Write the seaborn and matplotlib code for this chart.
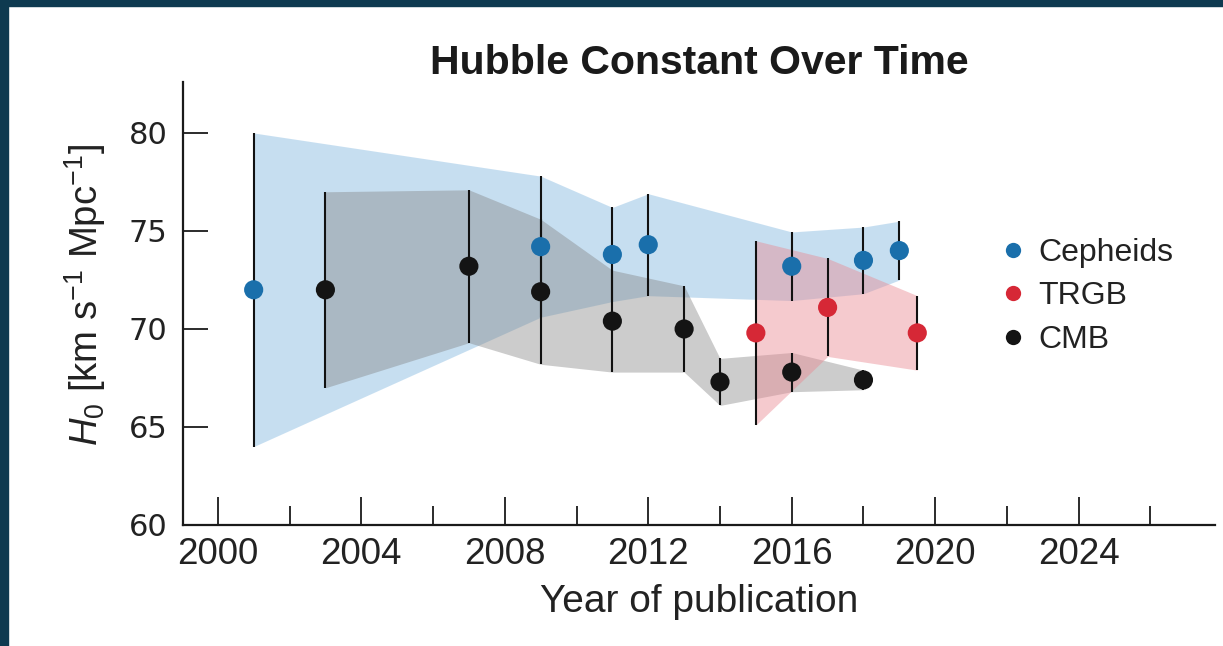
import numpy as np
import pandas as pd
import matplotlib
matplotlib.use("Agg")
import matplotlib.pyplot as plt
import seaborn as sns
from matplotlib.lines import Line2D
from matplotlib.patches import Rectangle

# H0 measurements by method: publication year, central value, 1-sigma error
cepheid_years = [2001, 2009, 2011, 2012, 2016, 2018, 2019]
cepheid_h0 = [72.0, 74.2, 73.8, 74.3, 73.2, 73.5, 74.0]
cepheid_err = [8.0, 3.6, 2.4, 2.6, 1.75, 1.7, 1.5]

trgb_years = [2015, 2017, 2019.5]
trgb_h0 = [69.8, 71.1, 69.8]
trgb_err = [4.7, 2.5, 1.9]

cmb_years = [2003, 2007, 2009, 2011, 2013, 2014, 2016, 2018]
cmb_h0 = [72.0, 73.2, 71.9, 70.4, 70.0, 67.3, 67.8, 67.4]
cmb_err = [5.0, 3.9, 3.7, 2.6, 2.2, 1.2, 1.0, 0.5]

methods = ["Cepheids", "TRGB", "CMB"]
marker_colors = {"Cepheids": "#1a6fab", "TRGB": "#d62836", "CMB": "#141414"}
band_colors = {"Cepheids": ("#8fbfe3", 0.5), "TRGB": ("#e98a93", 0.45), "CMB": ("#808080", 0.40)}

frames = []
for name, yrs, h0, err in [("Cepheids", cepheid_years, cepheid_h0, cepheid_err),
                           ("TRGB", trgb_years, trgb_h0, trgb_err),
                           ("CMB", cmb_years, cmb_h0, cmb_err)]:
    frames.append(pd.DataFrame({"method": name, "year": yrs, "h0": h0, "err": err}))
df = pd.concat(frames, ignore_index=True)

sns.set_theme(style="ticks")
plt.rcParams["font.family"] = ["Liberation Sans", "DejaVu Sans"]
plt.rcParams["mathtext.fontset"] = "custom"
plt.rcParams["mathtext.rm"] = "Liberation Sans"
plt.rcParams["mathtext.it"] = "Liberation Sans:italic"

W, H = 1223, 646
fig = plt.figure(figsize=(W / 100, H / 100), dpi=100)
fig.patch.set_facecolor("white")
ax = fig.add_axes([183 / W, 1 - 525 / H, (1215 - 183) / W, (525 - 82) / H])
ax.set_facecolor("white")

# dark frame along the top and left edges
frame_color = "#0e3a50"
fig.patches.append(Rectangle((0, 0), 8 / W, 1, transform=fig.transFigure,
                             color=frame_color, zorder=0))
fig.patches.append(Rectangle((0, 1 - 6 / H), 1, 6 / H, transform=fig.transFigure,
                             color=frame_color, zorder=0))

# uncertainty bands joining the error-bar ends of each method
for i, name in enumerate(["Cepheids", "CMB", "TRGB"]):
    sub = df[df.method == name]
    col, alpha = band_colors[name]
    ax.fill_between(sub.year, sub.h0 - sub.err, sub.h0 + sub.err,
                    color=col, alpha=alpha, lw=0, zorder=1 + i * 0.1)

# error bars
for name in methods:
    sub = df[df.method == name]
    ax.errorbar(sub.year, sub.h0, yerr=sub.err, fmt="none", ecolor="#111111",
                elinewidth=1.5, capsize=0, zorder=3)

sns.scatterplot(data=df, x="year", y="h0", hue="method", hue_order=methods,
                palette=marker_colors, s=190, edgecolor="none", linewidth=0,
                zorder=4, ax=ax, legend=False)

ax.set_xlim(1999.03, 2027.8)
ax.set_ylim(60, 82.6)
ax.set_xticks(np.arange(2000, 2025, 4))
ax.set_xticks(np.arange(2002, 2027, 4), minor=True)
ax.set_yticks([60, 65, 70, 75, 80])

for side in ["top", "right"]:
    ax.spines[side].set_visible(False)
for side in ["left", "bottom"]:
    ax.spines[side].set_color("#1a1a1a")
    ax.spines[side].set_linewidth(1.6)

ax.tick_params(axis="x", which="major", direction="in", length=20, width=1.3,
               color="#1a1a1a", labelsize=26.5, labelcolor="#222222", pad=9)
ax.tick_params(axis="x", which="minor", direction="in", length=14, width=1.3,
               color="#1a1a1a")
ax.tick_params(axis="y", which="major", direction="in", length=18, width=1.3,
               color="#1a1a1a", labelsize=22, labelcolor="#222222", pad=11)
for lbl in ax.get_yticklabels():
    lbl.set_fontfamily("DejaVu Sans")

ax.set_xlabel("Year of publication", fontsize=28, color="#222222", labelpad=8)
ax.set_ylabel(r"$\mathit{H}_0$ [km s$^{-1}$ Mpc$^{-1}$]", fontsize=27.5,
              color="#222222")
ax.yaxis.set_label_coords(-0.073, 0.52)
ax.set_title("Hubble Constant Over Time", fontsize=29.5, fontweight="bold",
             color="#1a1a1a", pad=1)

handles = [Line2D([], [], marker="o", linestyle="none", markersize=11,
                  markerfacecolor=marker_colors[m], markeredgewidth=0)
           for m in methods]
leg = ax.legend(handles, methods, loc="upper left",
                bbox_to_anchor=(1000 / W, 1 - 238 / H), bbox_transform=fig.transFigure,
                frameon=False, fontsize=23, handlelength=0.8, handletextpad=0.4,
                labelspacing=0.42, borderpad=0, borderaxespad=0)
for t in leg.get_texts():
    t.set_color("#222222")

fig.savefig("out.png", dpi=100, facecolor="white")
